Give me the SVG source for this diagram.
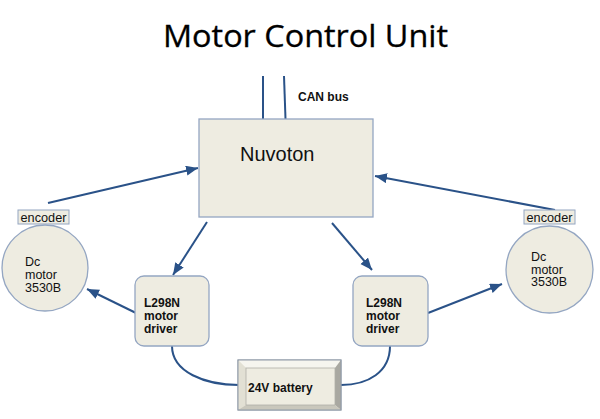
<svg xmlns="http://www.w3.org/2000/svg" width="600" height="419" viewBox="0 0 600 419">
<style>
.box{fill:#eeece1;stroke:#94a6c2;stroke-width:1.3}
.ln{fill:none;stroke:#2a5288;stroke-width:2}
.lbl{font-family:"Liberation Sans",Arial,sans-serif;fill:#111}
.b{font-weight:bold;font-size:12px}
.m{font-size:12.5px}
</style>
<defs>
<marker id="ah" markerUnits="userSpaceOnUse" markerWidth="14" markerHeight="12" refX="12" refY="5" orient="auto">
<path d="M0,0 L12,5 L0,10 Z" fill="#2a5288"/>
</marker>
</defs>
<rect width="600" height="419" fill="#fff"/>
<text x="163" y="47" font-family="'Open Sans','Liberation Sans',sans-serif" font-size="31" fill="#000" stroke="#000" stroke-width="0.3" textLength="285" lengthAdjust="spacingAndGlyphs">Motor Control Unit</text>

<g id="connectors">
<line class="ln" x1="263" y1="76" x2="263" y2="119"/>
<line class="ln" x1="284" y1="76" x2="285.5" y2="119"/>
<line class="ln" x1="48" y1="203" x2="198" y2="168" marker-end="url(#ah)"/>
<line class="ln" x1="555" y1="210" x2="375" y2="176" marker-end="url(#ah)"/>
<line class="ln" x1="207" y1="222" x2="173" y2="275" marker-end="url(#ah)"/>
<line class="ln" x1="332" y1="223" x2="372" y2="270" marker-end="url(#ah)"/>
<line class="ln" x1="136" y1="313" x2="87" y2="289" marker-end="url(#ah)"/>
<line class="ln" x1="428" y1="313" x2="502" y2="284" marker-end="url(#ah)"/>
<path class="ln" d="M172,346 C172,372 205,385 239,385"/>
<path class="ln" d="M390,346 C390,372 368,385 341,385"/>
</g>

<g id="can-label">
<text class="lbl b" x="298" y="101" font-size="11">CAN bus</text>
</g>

<g id="nuvoton">
<rect class="box" x="199" y="119" width="174" height="98"/>
<text class="lbl" x="240" y="161" font-size="20">Nuvoton</text>
</g>

<g id="encoder-left">
<rect x="18" y="210" width="51" height="14" fill="#eeece1" stroke="#94a6c2" stroke-width="1"/>
<text class="lbl" x="43.5" y="221.5" font-size="12.7" text-anchor="middle">encoder</text>
</g>
<g id="encoder-right">
<rect x="524" y="210" width="51" height="14" fill="#eeece1" stroke="#94a6c2" stroke-width="1"/>
<text class="lbl" x="549.5" y="221.5" font-size="12.7" text-anchor="middle">encoder</text>
</g>

<g id="motor-left">
<circle class="box" cx="45" cy="268" r="43"/>
<text class="lbl m" x="25" y="265.5">Dc</text>
<text class="lbl m" x="25" y="278.5">motor</text>
<text class="lbl m" x="25" y="292">3530B</text>
</g>
<g id="motor-right">
<circle class="box" cx="549.5" cy="269.5" r="43.5"/>
<text class="lbl m" x="531" y="261">Dc</text>
<text class="lbl m" x="531" y="273.5">motor</text>
<text class="lbl m" x="531" y="286">3530B</text>
</g>

<g id="driver-left">
<rect class="box" x="135" y="276" width="74" height="70" rx="9"/>
<text class="lbl b" x="144" y="307">L298N</text>
<text class="lbl b" x="144" y="320">motor</text>
<text class="lbl b" x="144" y="333">driver</text>
</g>
<g id="driver-right">
<rect class="box" x="353" y="276" width="75" height="70" rx="9"/>
<text class="lbl b" x="366" y="307">L298N</text>
<text class="lbl b" x="366" y="320">motor</text>
<text class="lbl b" x="366" y="333">driver</text>
</g>

<g id="battery">
<rect x="238" y="360" width="103" height="50" fill="#eeece1" stroke="#8f9aa8" stroke-width="1"/>
<polygon points="238,360 341,360 335,368 246,368" fill="#f6f5ef"/>
<polygon points="238,360 246,368 246,405 238,410" fill="#e2e0d4"/>
<polygon points="341,360 341,410 335,405 335,368" fill="#a9a8a1"/>
<polygon points="238,410 341,410 335,405 246,405" fill="#c9c7bc"/>
<rect x="246" y="368" width="89" height="37" fill="#eeece1" stroke="#b0b0a8" stroke-width="0.8"/>
<rect x="238" y="360" width="103" height="50" fill="none" stroke="#8f9aa8" stroke-width="1"/>
<text class="lbl b" x="248" y="392">24V battery</text>
</g>
</svg>
